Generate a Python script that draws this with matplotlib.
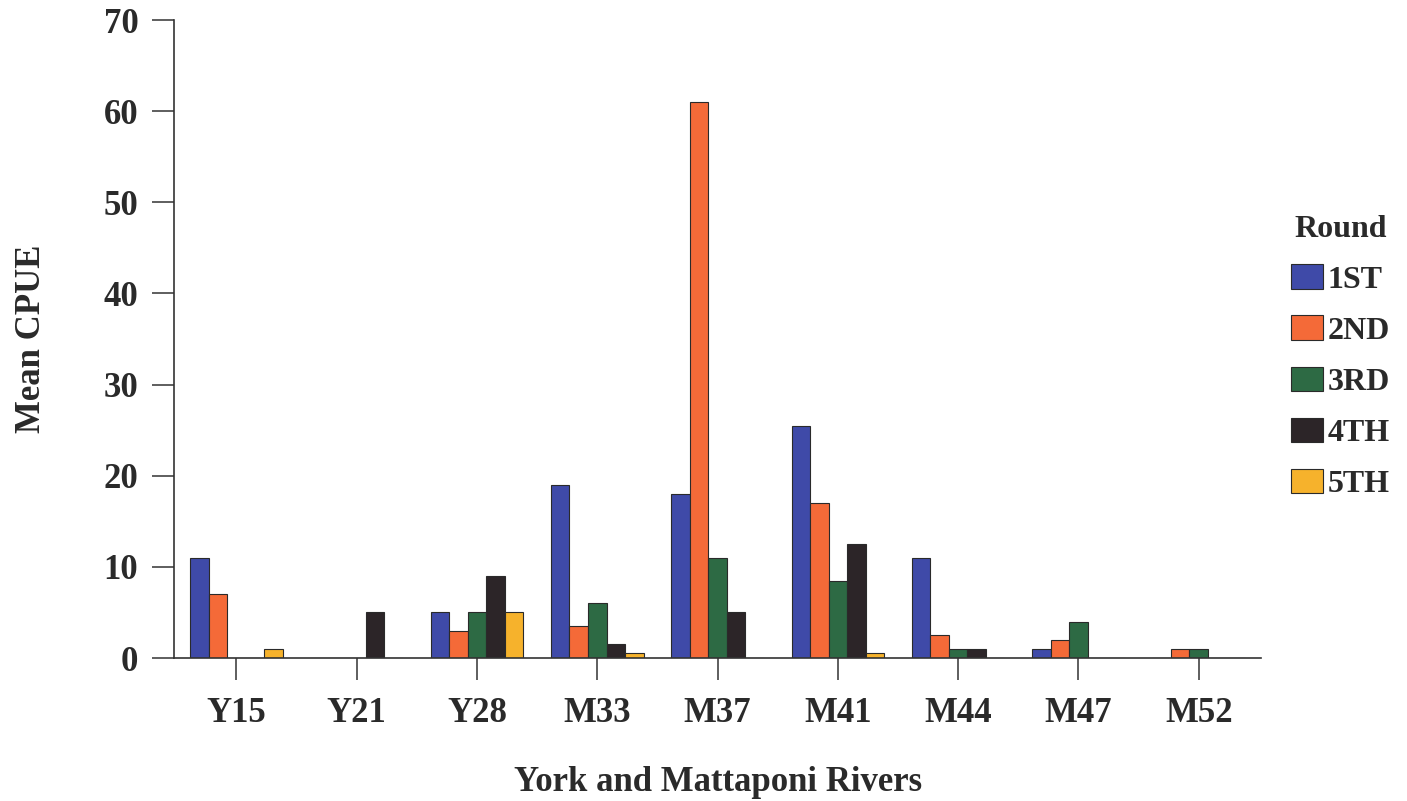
import numpy as np
import matplotlib.pyplot as plt
from matplotlib.patches import Patch

plt.rcParams['font.family'] = ['Liberation Serif', 'DejaVu Serif']
plt.rcParams['font.weight'] = 'bold'

stations = ['Y15', 'Y21', 'Y28', 'M33', 'M37', 'M41', 'M44', 'M47', 'M52']
rounds = ['1ST', '2ND', '3RD', '4TH', '5TH']
colors = ['#3f4aa8', '#f46a38', '#2d6a44', '#2c2528', '#f6b22c']

first = [11, 0, 5, 19, 18, 25.5, 11, 1, 0]
second = [7, 0, 3, 3.5, 61, 17, 2.5, 2, 1]
third = [0, 0, 5, 6, 11, 8.5, 1, 4, 1]
fourth = [0, 5, 9, 1.5, 5, 12.5, 1, 0, 0]
fifth = [1, 0, 5, 0.5, 0, 0.5, 0, 0, 0]
series = [first, second, third, fourth, fifth]

fig = plt.figure(figsize=(14.07, 8.01), dpi=100)
ax = fig.add_axes([0.124, 0.1785, 0.772, 0.7965])

x = np.arange(len(stations))
w = 0.154
for i, vals in enumerate(series):
    ax.bar(x + (i - 2) * w, vals, w, color=colors[i], edgecolor='#2a2a2a',
           linewidth=0.8, label=rounds[i])

ax.set_xlim(-0.515, 8.515)
ax.set_ylim(0, 70)
ax.set_yticks(range(0, 71, 10))
ax.set_xticks(x)
ax.set_xticklabels(stations)
ax.spines['top'].set_visible(False)
ax.spines['right'].set_visible(False)
for s in ['left', 'bottom']:
    ax.spines[s].set_color('#333333')
    ax.spines[s].set_linewidth(1.2)
ax.tick_params(axis='both', length=16, width=1.1, color='#333333',
               labelsize=25, labelcolor='#2a2a2a')
ax.tick_params(axis='x', pad=12)
ax.tick_params(axis='y', pad=10)

ax.set_ylabel('Mean CPUE', fontsize=25, fontweight='bold', color='#2a2a2a',
              labelpad=40)
ax.set_xlabel('York and Mattaponi Rivers', fontsize=25, fontweight='bold',
              color='#2a2a2a', labelpad=26)

handles = [Patch(facecolor=c, edgecolor='#2a2a2a', linewidth=0.8) for c in colors]
leg = fig.legend(handles, rounds, title='Round', loc='upper left',
                 bbox_to_anchor=(0.897, 0.768), frameon=False,
                 fontsize=23, title_fontsize=23, handlelength=1.0,
                 handleheight=0.8, handletextpad=0.15, labelspacing=0.65)
leg.get_title().set_fontweight('bold')
leg.get_title().set_color('#2a2a2a')
for t in leg.get_texts():
    t.set_color('#2a2a2a')

fig.savefig('out.png', dpi=100)
